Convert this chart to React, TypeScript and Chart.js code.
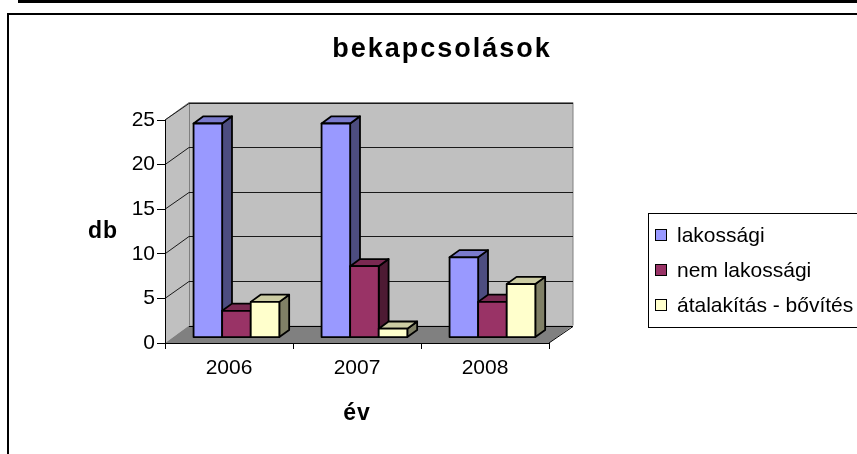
import React, { useEffect, useRef } from 'react';
import { Chart, registerables } from 'chart.js';

Chart.register(...registerables);

const TITLE = 'bekapcsolások';
const X_TITLE = 'év';
const Y_TITLE = 'db';
const YEARS = ['2006', '2007', '2008'];
const SERIES_NAMES = ['lakossági', 'nem lakossági', 'átalakítás - bővítés'];
const LAKOSSAGI = [24, 24, 9];
const NEM_LAKOSSAGI = [3, 8, 4];
const ATALAKITAS = [4, 1, 6];
const Y_MIN = 0;
const Y_MAX = 25;
const Y_STEP = 5;

const FRONT = ['#9999FF', '#993366', '#FFFFCC'];
const TOPC = ['#7A7ACC', '#7A2952', '#CCCCA3'];
const SIDE = ['#4D4D80', '#4D1A33', '#808066'];

const FONT = '"Liberation Sans", Arial, sans-serif';
const DEPTH_X = 24;
const DEPTH_Y = -17.5;
const F1 = 0.31;
const F2 = 0.72;

const threeD = {
  id: 'threeD',
  beforeDraw(chart: any) {
    const ctx = chart.ctx;
    const ca = chart.chartArea;
    const ys = chart.scales.y;
    ctx.save();
    ctx.fillStyle = '#000';
    ctx.fillRect(18, 0, 839, 3);
    ctx.fillRect(7, 13, 850, 2);
    ctx.fillRect(7, 13, 2, 441);

    const yTop = ys.getPixelForValue(Y_MAX);
    const yBot = ys.getPixelForValue(Y_MIN);
    const L = ca.left, R = ca.right;
    ctx.fillStyle = '#C0C0C0';
    ctx.beginPath();
    ctx.moveTo(L, yTop);
    ctx.lineTo(L + DEPTH_X, yTop + DEPTH_Y);
    ctx.lineTo(L + DEPTH_X, yBot + DEPTH_Y);
    ctx.lineTo(L, yBot);
    ctx.closePath();
    ctx.fill();
    ctx.fillRect(L + DEPTH_X, yTop + DEPTH_Y, R - L, yBot - yTop);
    ctx.strokeStyle = '#808080';
    ctx.lineWidth = 1;
    ctx.beginPath();
    ctx.moveTo(L, yTop);
    ctx.lineTo(L + DEPTH_X, yTop + DEPTH_Y);
    ctx.lineTo(R + DEPTH_X, yTop + DEPTH_Y);
    ctx.lineTo(R + DEPTH_X, yBot + DEPTH_Y);
    ctx.moveTo(L + DEPTH_X + 0.5, yTop + DEPTH_Y);
    ctx.lineTo(L + DEPTH_X + 0.5, yBot + DEPTH_Y);
    ctx.stroke();
    ctx.strokeStyle = '#1a1a1a';
    ctx.lineWidth = 1;
    for (let v = Y_MIN + Y_STEP; v <= Y_MAX; v += Y_STEP) {
      const y = Math.round(ys.getPixelForValue(v) + DEPTH_Y) + 0.5;
      const yf = ys.getPixelForValue(v);
      ctx.beginPath();
      ctx.moveTo(L, yf);
      ctx.lineTo(L + DEPTH_X, y);
      ctx.lineTo(R + DEPTH_X, y);
      ctx.stroke();
    }
    ctx.fillStyle = '#808080';
    ctx.beginPath();
    ctx.moveTo(L, yBot);
    ctx.lineTo(R, yBot);
    ctx.lineTo(R + DEPTH_X, yBot + DEPTH_Y);
    ctx.lineTo(L + DEPTH_X, yBot + DEPTH_Y);
    ctx.closePath();
    ctx.fill();
    ctx.strokeStyle = '#000';
    ctx.beginPath();
    ctx.moveTo(L + DEPTH_X, Math.round(yBot + DEPTH_Y) + 0.5);
    ctx.lineTo(R + DEPTH_X, Math.round(yBot + DEPTH_Y) + 0.5);
    ctx.lineTo(R, yBot);
    ctx.stroke();
    ctx.restore();
  },
  afterDatasetsDraw(chart: any) {
    const ctx = chart.ctx;
    ctx.save();
    ctx.lineWidth = 1.8;
    ctx.strokeStyle = '#000';
    ctx.lineJoin = 'round';
    const n = chart.data.labels.length;
    const ox = DEPTH_X * F1, oy = DEPTH_Y * F1;
    const ddx = DEPTH_X * (F2 - F1), ddy = DEPTH_Y * (F2 - F1);
    for (let j = 0; j < n; j++) {
      for (let i = 0; i < chart.data.datasets.length; i++) {
        const el = chart.getDatasetMeta(i).data[j];
        const p = el.getProps(['x', 'y', 'base', 'width'], true);
        const l = p.x - p.width / 2 + ox;
        const r = p.x + p.width / 2 + ox;
        const t = p.y + oy;
        const b = p.base + oy;
        ctx.fillStyle = SIDE[i];
        ctx.beginPath();
        ctx.moveTo(r, t);
        ctx.lineTo(r + ddx, t + ddy);
        ctx.lineTo(r + ddx, b + ddy);
        ctx.lineTo(r, b);
        ctx.closePath();
        ctx.fill();
        ctx.stroke();
        ctx.fillStyle = TOPC[i];
        ctx.beginPath();
        ctx.moveTo(l, t);
        ctx.lineTo(l + ddx, t + ddy);
        ctx.lineTo(r + ddx, t + ddy);
        ctx.lineTo(r, t);
        ctx.closePath();
        ctx.fill();
        ctx.stroke();
        ctx.fillStyle = FRONT[i];
        ctx.beginPath();
        ctx.rect(l, t, r - l, b - t);
        ctx.fill();
        ctx.stroke();
      }
    }
    ctx.restore();
  },
  afterDraw(chart: any) {
    const ctx = chart.ctx;
    const ca = chart.chartArea;
    ctx.save();
    ctx.fillStyle = '#000';
    ctx.font = `bold 27px ${FONT}`;
    (ctx as any).letterSpacing = '2px';
    ctx.textAlign = 'center';
    ctx.textBaseline = 'alphabetic';
    ctx.fillText(TITLE, 442, 57);
    (ctx as any).letterSpacing = '1px';
    ctx.font = `bold 23px ${FONT}`;
    ctx.fillText(Y_TITLE, 103, 238);
    ctx.fillText(X_TITLE, (ca.left + ca.right) / 2, 420);
    (ctx as any).letterSpacing = '0px';
    ctx.strokeStyle = '#000';
    ctx.lineWidth = 1;
    ctx.strokeRect(648.5, 213.5, 220, 114);
    ctx.font = `21px ${FONT}`;
    ctx.textAlign = 'left';
    ctx.textBaseline = 'middle';
    chart.data.datasets.forEach((ds: any, i: number) => {
      const cy = 235 + i * 35;
      ctx.fillStyle = FRONT[i];
      ctx.fillRect(655.5, cy - 5.5, 11, 11);
      ctx.strokeRect(655.5, cy - 5.5, 11, 11);
      ctx.fillStyle = '#000';
      ctx.fillText(ds.label, 677, cy + 1);
    });
    ctx.restore();
  },
};

export default function App() {
  const ref = useRef<HTMLCanvasElement>(null);
  useEffect(() => {
    document.body.style.margin = '0';
    const chart = new Chart(ref.current as HTMLCanvasElement, {
      type: 'bar',
      data: {
        labels: YEARS,
        datasets: [LAKOSSAGI, NEM_LAKOSSAGI, ATALAKITAS].map((d, i) => ({
          label: SERIES_NAMES[i],
          data: d,
          backgroundColor: 'rgba(0,0,0,0)',
          borderWidth: 0,
          categoryPercentage: 0.67,
          barPercentage: 1,
        })),
      },
      options: {
        responsive: false,
        animation: false,
        devicePixelRatio: 1,
        layout: { padding: { left: 0, top: 120, right: 308, bottom: 0 } },
        plugins: {
          legend: { display: false },
          title: { display: false },
          tooltip: { enabled: false },
        },
        scales: {
          x: {
            offset: true,
            grid: { offset: true, drawOnChartArea: false, drawTicks: true, tickLength: 6, color: '#000' },
            border: { display: true, color: '#000', width: 1 },
            ticks: { color: '#000', font: { family: FONT, size: 21 }, padding: 7, maxRotation: 0 },
            afterFit: (s: any) => { s.height = 111; },
          },
          y: {
            min: Y_MIN,
            max: Y_MAX,
            ticks: { stepSize: Y_STEP, color: '#000', font: { family: FONT, size: 21 }, padding: 2 },
            grid: { drawOnChartArea: false, tickLength: 8, color: '#000' },
            border: { display: true, color: '#000', width: 1 },
            afterFit: (s: any) => { s.width = 165; },
          },
        },
      },
      plugins: [threeD],
    } as any);
    return () => chart.destroy();
  }, []);
  return <canvas ref={ref} width={857} height={454} style={{ display: 'block' }} />;
}
